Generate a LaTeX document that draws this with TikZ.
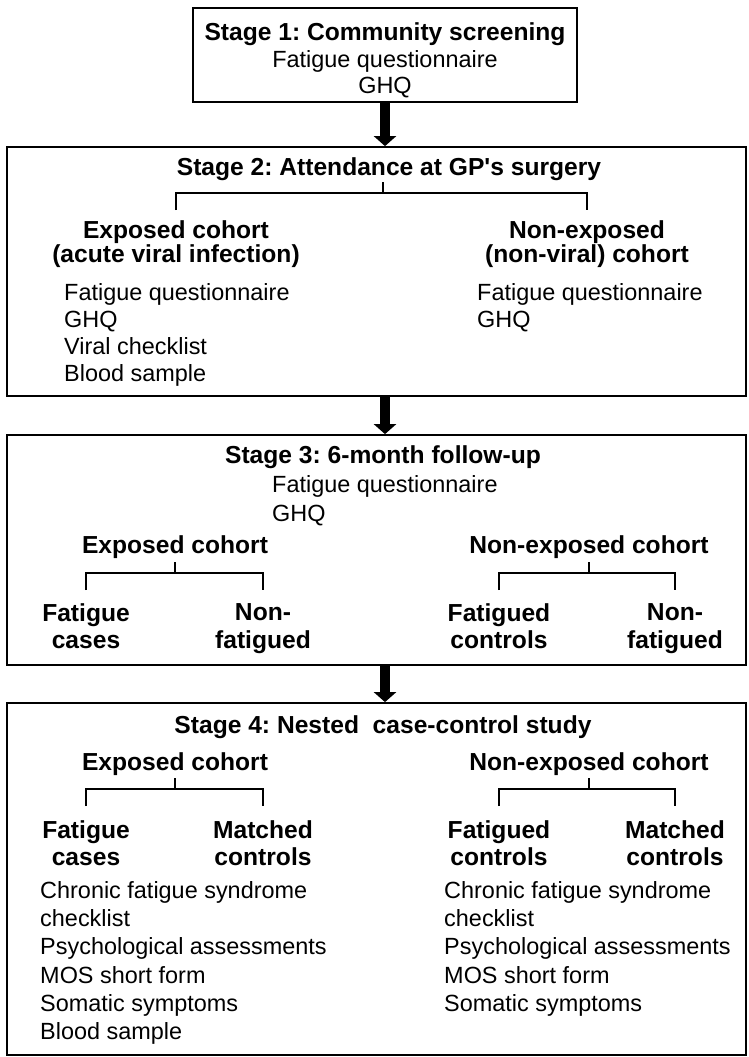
\documentclass[tikz,border=0pt]{standalone}
\usepackage{fontspec}
\setmainfont{Liberation Sans}
\usetikzlibrary{arrows.meta,positioning,calc}
\frenchspacing

% bracket: stub up from the junction, bar across, legs down to the two children
\newcommand{\drawfork}[3]{%
  \draw[fork] (#1) -- ++(0,-11);
  \draw[fork] (#2.north |- #1) ++(0,17) -- (#2.north |- #1) -- (#3.north |- #1) -- ++(0,17);}

\begin{document}
\begin{tikzpicture}[x=0.03cm,y=-0.03cm,
    stagebox/.style={draw,line width=1.5pt,inner sep=0pt},
    stagetitle/.style={anchor=north,inner sep=0pt,font=\bfseries\fontsize{21}{24}\selectfont},
    grouphead/.style={anchor=north,inner sep=0pt,align=center,font=\bfseries\fontsize{21}{23.8}\selectfont},
    itemlist/.style={anchor=north west,inner sep=0pt,align=left,font=\fontsize{20}{24}\selectfont},
    fork/.style={line width=2.2pt},
    flowarrow/.style={line width=3mm,-{Triangle[width=6.6mm,length=3mm]}}]
  \useasboundingbox (0,0) rectangle (748,1057);

  % stage boxes
  \node[stagebox,minimum width=11.52cm,minimum height=2.82cm] (box1) at (385,55) {};
  \node[stagebox,minimum width=22.17cm,minimum height=7.47cm] (box2) at (376.5,271.5) {};
  \node[stagebox,minimum width=22.17cm,minimum height=6.9cm] (box3) at (376.5,550) {};
  \node[stagebox,minimum width=22.17cm,minimum height=10.56cm] (box4) at (376.5,879) {};

  \draw[flowarrow] (box1.south) -- (box1.south |- box2.north);
  \draw[flowarrow] (box2.south -| box1.south) -- (box3.north -| box1.south);
  \draw[flowarrow] (box3.south -| box1.south) -- (box4.north -| box1.south);

  % Stage 1
  \node[stagetitle] (t1) at (385,22) {Stage 1: Community screening};
  \node[anchor=north,inner sep=0pt,align=center,font=\fontsize{20}{22.2}\selectfont]
    (l1) at (385,50) {Fatigue questionnaire\\GHQ};

  % Stage 2
  \node[stagetitle] (t2) at (389,157) {Stage 2: Attendance at GP\textquotesingle s surgery};
  \node[grouphead,font=\bfseries\fontsize{21}{18.8}\selectfont] (exp2) at (176,220)
    {Exposed cohort\\(acute viral infection)};
  \node[grouphead,font=\bfseries\fontsize{21}{18.8}\selectfont] (non2) at (587,220)
    {Non-exposed\\(non-viral) cohort};
  \coordinate (j2) at (383,193);
  \drawfork{j2}{exp2}{non2}
  \node[itemlist,font=\fontsize{20}{23.2}\selectfont] (list2a) at (64,283)
    {Fatigue questionnaire\\GHQ\\Viral checklist\\Blood sample};
  \node[itemlist,font=\fontsize{20}{23.2}\selectfont] (list2b) at (477,283)
    {Fatigue questionnaire\\GHQ};

  % Stage 3
  \node[stagetitle] (t3) at (383,445) {Stage 3: 6-month follow-up};
  \node[itemlist,font=\fontsize{20}{24.7}\selectfont] (list3) at (272,475)
    {Fatigue questionnaire\\GHQ};
  \node[grouphead] (exp3) at (175,535) {Exposed cohort};
  \node[grouphead] (non3) at (589,535) {Non-exposed cohort};
  \node[grouphead] (c3a) at (86,603) {Fatigue\\cases};
  \node[grouphead] (c3b) at (263,603) {Non-\\fatigued};
  \node[grouphead] (c3c) at (499,603) {Fatigued\\controls};
  \node[grouphead] (c3d) at (675,603) {Non-\\fatigued};
  \coordinate (j3a) at (exp3.south |- 0,573);
  \coordinate (j3b) at (non3.south |- 0,573);
  \drawfork{j3a}{c3a}{c3b}
  \drawfork{j3b}{c3c}{c3d}

  % Stage 4
  \node[stagetitle] (t4) at (383,715) {Stage 4: Nested~ case-control study};
  \node[grouphead] (exp4) at (175,752) {Exposed cohort};
  \node[grouphead] (non4) at (589,752) {Non-exposed cohort};
  \node[grouphead] (c4a) at (86,820) {Fatigue\\cases};
  \node[grouphead] (c4b) at (263,820) {Matched\\controls};
  \node[grouphead] (c4c) at (499,820) {Fatigued\\controls};
  \node[grouphead] (c4d) at (675,820) {Matched\\controls};
  \coordinate (j4a) at (exp4.south |- 0,789);
  \coordinate (j4b) at (non4.south |- 0,789);
  \drawfork{j4a}{c4a}{c4b}
  \drawfork{j4b}{c4c}{c4d}
  \node[itemlist,font=\fontsize{20}{24.2}\selectfont] (list4a) at (40,881)
    {Chronic fatigue syndrome\\checklist\\Psychological assessments\\MOS short form\\Somatic symptoms\\Blood sample};
  \node[itemlist,font=\fontsize{20}{24.2}\selectfont] (list4b) at (444,881)
    {Chronic fatigue syndrome\\checklist\\Psychological assessments\\MOS short form\\Somatic symptoms};
\end{tikzpicture}
\end{document}
